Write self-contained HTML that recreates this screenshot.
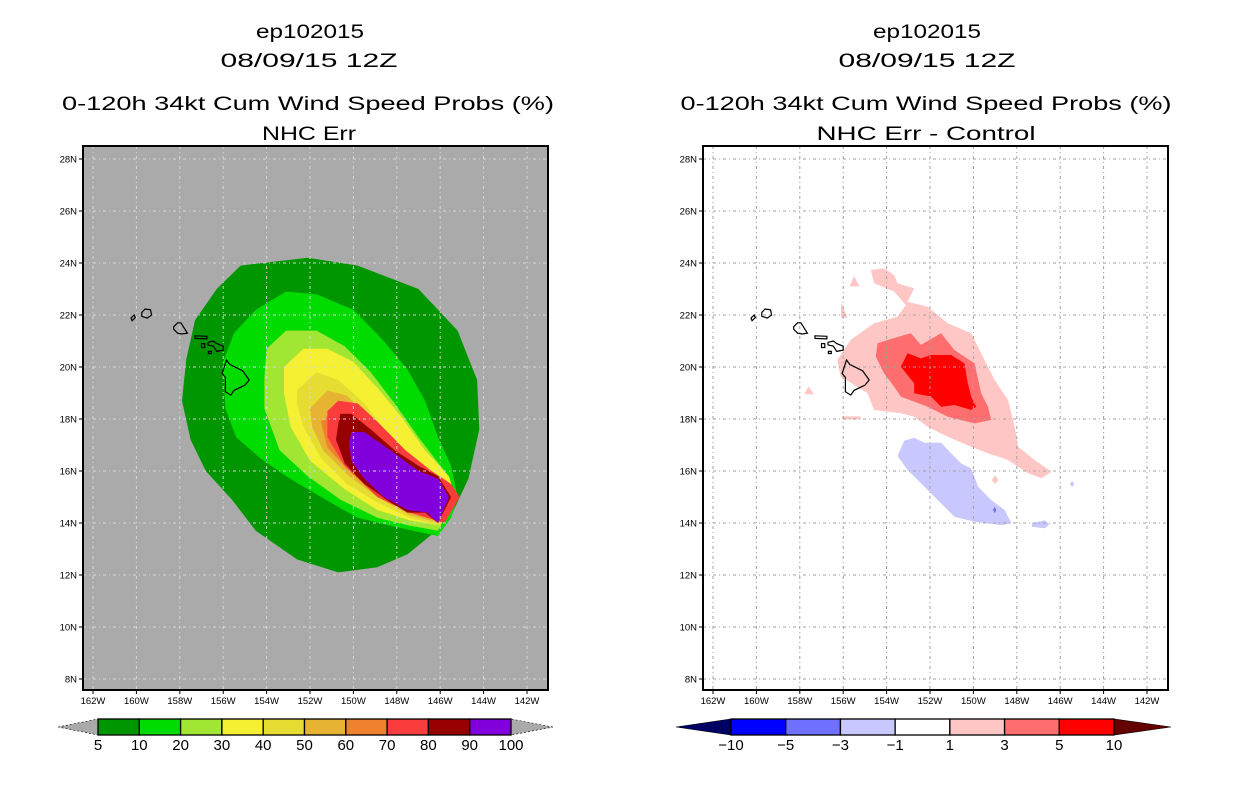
<!DOCTYPE html>
<html><head><meta charset="utf-8"><style>
html,body{margin:0;padding:0;background:#fff;}
svg{display:block;font-family:"Liberation Sans",sans-serif;}
</style></head><body>
<svg id="chart" width="1236" height="800" viewBox="0 0 1236 800">
<g>
<text x="310" y="38" text-anchor="middle" font-size="19" textLength="108" lengthAdjust="spacingAndGlyphs">ep102015</text>
<text x="309" y="67" text-anchor="middle" font-size="19" textLength="177" lengthAdjust="spacingAndGlyphs">08/09/15 12Z</text>
<text x="308" y="110" text-anchor="middle" font-size="19" textLength="492" lengthAdjust="spacingAndGlyphs">0-120h 34kt Cum Wind Speed Probs (%)</text>
<text x="309" y="140" text-anchor="middle" font-size="19" textLength="94" lengthAdjust="spacingAndGlyphs">NHC Err</text>
</g>
<g>
<text x="927" y="38" text-anchor="middle" font-size="19" textLength="108" lengthAdjust="spacingAndGlyphs">ep102015</text>
<text x="927" y="67" text-anchor="middle" font-size="19" textLength="177" lengthAdjust="spacingAndGlyphs">08/09/15 12Z</text>
<text x="926" y="110" text-anchor="middle" font-size="19" textLength="491" lengthAdjust="spacingAndGlyphs">0-120h 34kt Cum Wind Speed Probs (%)</text>
<text x="926" y="140" text-anchor="middle" font-size="19" textLength="219" lengthAdjust="spacingAndGlyphs">NHC Err - Control</text>
</g>
<defs>
<clipPath id="clipL"><rect x="83" y="146" width="465" height="544"/></clipPath>
<clipPath id="clipR"><rect x="703" y="146" width="465" height="544"/></clipPath>
</defs>
<g id="panelL" clip-path="url(#clipL)"></g>
<g id="panelR" clip-path="url(#clipR)"></g>
<g id="axes"></g>
<g id="cbars"></g>
</svg>
<script>
// ---- data ----
const latTicks = [28,26,24,22,20,18,16,14,12,10,8];
const lonTicks = [-162,-160,-158,-156,-154,-152,-150,-148,-146,-144,-142];
const probLevels = ['5','10','20','30','40','50','60','70','80','90','100'];
const probColors = ['#009600','#00dc00','#a0e632','#f5f032','#e6dc32','#e6b432','#f0822d','#fa3c3c','#960000','#8200dc'];
const diffLevels = ['-10','-5','-3','-1','1','3','5','10'];
const diffColors = ['#0000ff','#7070ff','#c8c8ff','#ffffff','#ffc6c6','#ff6e6e','#ff0000'];
const prob5 = [[-155.2,23.9],[-152.1,24.2],[-149.8,23.9],[-147.0,23.0],[-145.2,21.4],[-144.3,19.5],[-144.2,17.6],[-144.7,15.7],[-145.6,14.1],[-147.5,12.8],[-148.9,12.3],[-150.7,12.1],[-152.6,12.6],[-154.5,13.7],[-155.6,14.9],[-156.8,16.0],[-157.5,17.2],[-157.9,18.7],[-157.7,20.3],[-157.3,21.8],[-156.3,23.0]];
const prob10 = [[-153.1,22.9],[-151.7,22.8],[-150.0,22.2],[-148.6,21.0],[-147.5,19.9],[-146.7,18.7],[-146.1,17.3],[-145.5,16.2],[-145.2,15.0],[-145.5,14.2],[-146.1,13.5],[-146.7,13.6],[-148.3,13.9],[-149.8,14.2],[-151.5,15.0],[-153.1,15.8],[-154.3,16.5],[-155.4,17.3],[-155.9,18.4],[-156.0,20.2],[-155.5,21.3],[-154.5,22.2]];
const prob20 = [[-154.0,20.7],[-153.1,21.4],[-151.7,21.4],[-150.4,20.8],[-149.2,19.8],[-148.1,18.6],[-147.0,17.3],[-145.8,16.0],[-145.3,15.0],[-146.1,13.7],[-147.4,13.9],[-148.9,14.2],[-150.6,14.9],[-152.1,15.8],[-153.4,16.8],[-154.1,18.4],[-154.1,19.6]];
const prob30 = [[-153.2,20.0],[-152.3,20.7],[-151.2,20.7],[-150.0,20.2],[-148.9,19.2],[-147.8,18.1],[-146.7,16.8],[-145.6,15.8],[-145.3,15.0],[-146.0,13.9],[-147.4,14.1],[-148.9,14.5],[-150.4,15.3],[-152.0,16.4],[-152.9,17.7],[-153.2,19.0]];
const prob40 = [[-152.6,19.1],[-151.7,19.8],[-150.7,19.5],[-149.5,18.6],[-148.3,17.3],[-147.0,16.3],[-145.8,15.7],[-145.3,15.0],[-146.0,13.9],[-147.4,14.2],[-148.9,14.8],[-150.3,15.5],[-151.5,16.5],[-152.3,17.7],[-152.6,18.6]];
const prob50 = [[-152.0,18.4],[-151.2,19.1],[-150.3,18.9],[-149.2,18.0],[-148.0,16.9],[-146.8,16.1],[-145.7,15.5],[-145.35,15.0],[-146.0,14.0],[-147.4,14.3],[-148.9,15.0],[-150.2,15.8],[-151.4,16.8],[-151.9,17.7]];
const prob60 = [[-151.5,17.9],[-150.7,18.5],[-149.8,18.3],[-148.8,17.5],[-147.7,16.6],[-146.5,15.9],[-145.5,15.4],[-145.4,15.0],[-146.0,14.1],[-147.4,14.4],[-148.9,15.1],[-150.2,16.0],[-151.2,16.9]];
const prob70 = [[-151.2,18.3],[-150.7,18.7],[-149.8,18.6],[-148.9,17.9],[-147.6,16.8],[-146.4,16.0],[-145.5,15.5],[-145.1,15.0],[-145.8,14.0],[-147.4,14.4],[-148.9,15.0],[-150.4,16.2],[-151.2,17.3]];
const prob80 = [[-150.7,17.8],[-150.6,18.2],[-150.1,18.2],[-149.2,17.6],[-148.1,16.8],[-147.0,16.2],[-146.1,15.8],[-145.5,15.0],[-146.1,14.0],[-146.7,14.4],[-147.5,14.4],[-148.3,14.8],[-149.5,15.5],[-150.4,16.3],[-150.8,17.2]];
const prob90 = [[-150.2,17.1],[-150.1,17.5],[-149.5,17.5],[-148.3,16.8],[-147.0,16.0],[-146.1,15.7],[-145.6,15.0],[-146.1,14.0],[-146.6,14.4],[-147.5,14.5],[-148.6,15.0],[-149.5,15.7],[-150.1,16.4]];
const diffPos1 = [[-154.58,21.68],[-153.5,21.94],[-153.11,22.38],[-153.65,22.9],[-154.58,23.22],[-154.73,23.73],[-154.12,23.8],[-153.65,23.54],[-153.5,23.22],[-152.73,23.03],[-153.03,22.51],[-152.11,22.32],[-151.18,21.68],[-150.1,21.3],[-149.49,20.27],[-149.02,19.5],[-148.4,18.73],[-148.1,17.7],[-147.94,16.93],[-147.17,16.42],[-146.4,15.97],[-146.86,15.72],[-147.48,15.91],[-148.4,16.42],[-149.33,16.68],[-150.1,16.93],[-151.18,17.32],[-152.11,17.7],[-152.73,18.09],[-153.34,18.22],[-154.58,18.35],[-154.88,18.99],[-156.12,19.63],[-156.27,20.27],[-155.66,21.04]];
const diffPos1Blobs = [
 [[-155.7,23.1],[-155.5,23.5],[-155.25,23.1]],
 [[-156.1,22.5],[-155.8,21.9],[-156.1,21.9]],
 [[-157.8,18.95],[-157.6,19.25],[-157.35,18.95]],
 [[-156.05,18.1],[-155.2,18.1],[-155.2,17.98],[-156.05,17.98]],
 [[-149.15,15.65],[-149.0,15.85],[-148.85,15.65],[-149.0,15.5]],
 [[-148.45,17.25],[-148.4,17.45],[-148.35,17.25]]];
const diffPos3 = [[-154.42,20.91],[-153.19,21.23],[-152.88,21.3],[-152.42,20.85],[-151.49,21.3],[-150.87,20.65],[-149.95,20.14],[-149.64,18.99],[-149.33,18.47],[-149.18,17.96],[-149.95,17.83],[-151.18,18.09],[-152.11,18.47],[-153.34,18.86],[-153.65,19.24],[-154.12,19.76],[-154.5,20.4]];
const diffPos5 = [[-153.34,20.01],[-153.03,20.53],[-152.42,20.33],[-151.95,20.46],[-151.03,20.46],[-150.41,20.14],[-150.26,19.37],[-150.1,18.86],[-149.87,18.47],[-150.1,18.35],[-150.87,18.54],[-151.49,18.47],[-151.95,18.86],[-152.73,18.99],[-152.73,19.37]];
const diffNeg1 = [[-153.5,16.58],[-153.19,17.16],[-152.73,17.28],[-152.26,17.09],[-151.49,17.09],[-151.03,16.68],[-150.56,16.29],[-150.1,16.1],[-149.79,15.4],[-149.18,14.88],[-148.56,14.5],[-148.25,13.99],[-148.71,13.92],[-149.95,14.05],[-150.87,14.24],[-151.64,14.88],[-152.42,15.53],[-153.03,16.04]];
const diffNeg1Blobs = [
 [[-147.3,14.0],[-146.7,14.1],[-146.5,13.95],[-146.7,13.8],[-147.3,13.85]],
 [[-145.55,15.5],[-145.45,15.62],[-145.35,15.5],[-145.45,15.38]]];
const diffNeg3Blobs = [[[-149.1,14.5],[-149.02,14.62],[-148.94,14.5],[-149.02,14.38]]];
const islands = [
 [[-155.85,20.27],[-155.7,20.1],[-155.1,19.85],[-154.8,19.5],[-155.0,19.3],[-155.5,19.1],[-155.65,18.92],[-155.9,19.05],[-155.9,19.6],[-156.05,19.75],[-155.95,20.0]],
 [[-156.7,20.95],[-156.45,21.0],[-156.3,20.9],[-156.0,20.8],[-156.0,20.65],[-156.3,20.6],[-156.45,20.8],[-156.7,20.85]],
 [[-157.3,21.2],[-156.75,21.18],[-156.75,21.08],[-157.3,21.1]],
 [[-157.0,20.9],[-156.85,20.9],[-156.85,20.75],[-157.0,20.75]],
 [[-156.68,20.6],[-156.55,20.6],[-156.55,20.52],[-156.68,20.52]],
 [[-158.28,21.55],[-158.1,21.7],[-157.95,21.7],[-157.65,21.3],[-157.9,21.27],[-158.1,21.3],[-158.28,21.45]],
 [[-159.75,22.1],[-159.6,22.23],[-159.35,22.2],[-159.3,22.0],[-159.5,21.88],[-159.75,21.95]],
 [[-160.25,21.88],[-160.1,22.0],[-160.05,21.9],[-160.2,21.78]]];
// ---- drawing ----
const NS='http://www.w3.org/2000/svg';
const panels = [{x0:83,off:0,g:'panelL',bg:'#aaaaaa',grid:'#d8d8d8'},{x0:703,off:620,g:'panelR',bg:'#ffffff',grid:'#a0a0a0'}];
function xs(lon,p){return 93+p.off+(lon+162)*21.7;}
function ys(lat){return 159+(28-lat)*26;}
function mk(tag,attrs,parent){const e=document.createElementNS(NS,tag);for(const k in attrs)e.setAttribute(k,attrs[k]);parent.appendChild(e);return e;}
function pts(poly,p){return poly.map(q=>xs(q[0],p).toFixed(1)+','+ys(q[1]).toFixed(1)).join(' ');}
function poly(parent,data,p,fill,name){
  const e=mk('polygon',{points:pts(data,p),fill:fill},parent);
  
  
}
const L=panels[0],R=panels[1];
const gL=document.getElementById('panelL'),gR=document.getElementById('panelR');
mk('rect',{x:83,y:146,width:465,height:544,fill:L.bg},gL);
mk('rect',{x:703,y:146,width:465,height:544,fill:R.bg},gR);
const probPolys=[prob5,prob10,prob20,prob30,prob40,prob50,prob60,prob70,prob80,prob90];
probPolys.forEach((pp,i)=>poly(gL,pp,L,probColors[i],'contour-'+probLevels[i]));
poly(gR,diffPos1,R,diffColors[4],'diff-contour-plus1');
diffPos1Blobs.forEach(b=>poly(gR,b,R,diffColors[4],'diff-blob-plus1'));
poly(gR,diffPos3,R,diffColors[5],'diff-contour-plus3');
poly(gR,diffPos5,R,diffColors[6],'diff-contour-plus5');
poly(gR,diffNeg1,R,diffColors[2],'diff-contour-minus1');
diffNeg1Blobs.forEach(b=>poly(gR,b,R,diffColors[2],'diff-blob-minus1'));
diffNeg3Blobs.forEach(b=>poly(gR,b,R,diffColors[1],'diff-blob-minus3'));
[[gL,L],[gR,R]].forEach(([g,p])=>{
  lonTicks.forEach(lon=>{const x=xs(lon,p);mk('line',{x1:x,x2:x,y1:146,y2:690,stroke:p.grid,'stroke-width':1,'stroke-dasharray':'3,3,1,3'},g);});
  latTicks.forEach(lat=>{const y=ys(lat);mk('line',{x1:p.x0,x2:p.x0+465,y1:y,y2:y,stroke:p.grid,'stroke-width':1,'stroke-dasharray':'3,3,1,3'},g);});
  islands.forEach(is=>{const e=mk('polygon',{points:pts(is,p),fill:'none',stroke:'#000','stroke-width':1.2},g);
    
    });
});
const ax=document.getElementById('axes');
panels.forEach(p=>{
  mk('rect',{x:p.x0,y:146,width:465,height:544,fill:'none',stroke:'#000','stroke-width':2},ax);
  latTicks.forEach(lat=>{const y=ys(lat);
    mk('line',{x1:p.x0-4,x2:p.x0,y1:y,y2:y,stroke:'#000'},ax);
    const t=mk('text',{x:p.x0-6,y:y+3.5,'text-anchor':'end','font-size':9.5},ax);t.textContent=lat+'N';
    
    });
  lonTicks.forEach(lon=>{const x=xs(lon,p);
    mk('line',{x1:x,x2:x,y1:690,y2:694,stroke:'#000'},ax);
    const t=mk('text',{x:x,y:704,'text-anchor':'middle','font-size':9.5},ax);t.textContent=(-lon)+'W';
    
    });
});
const cb=document.getElementById('cbars');
function colorbar(x0,x1,tipL,tipR,colors,labels,cL,cR,name){
  const g=mk('g',{},cb);
  
  
  const y0=719,y1=735,w=(x1-x0)/colors.length;
  mk('polygon',{points:`${tipL},727 ${x0},${y0} ${x0},${y1}`,fill:cL,stroke:'#000','stroke-width':0.6,'stroke-dasharray':cL==='#aaaaaa'?'2,2':'none'},g);
  mk('polygon',{points:`${tipR},727 ${x1},${y0} ${x1},${y1}`,fill:cR,stroke:'#000','stroke-width':0.6,'stroke-dasharray':cR==='#aaaaaa'?'2,2':'none'},g);
  colors.forEach((c,i)=>{const r=mk('rect',{x:x0+i*w,y:y0,width:w,height:y1-y0,fill:c,stroke:'#000','stroke-width':1.3},g);
    
    });
  labels.forEach((l,i)=>{const t=mk('text',{x:x0+i*w,y:750,'text-anchor':'middle','font-size':15},g);t.textContent=l.replace('-','\u2212');
    
    });
}
colorbar(98,511,58,553,probColors,probLevels,'#aaaaaa','#aaaaaa','prob-colorbar');
colorbar(731,1114,676,1171,diffColors,diffLevels,'#000064','#640000','diff-colorbar');
</script>
</body></html>
